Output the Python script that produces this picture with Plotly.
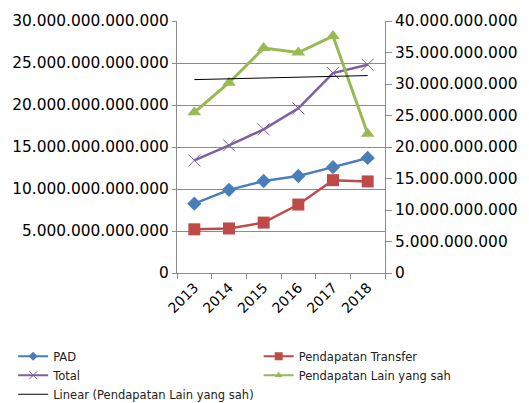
import numpy as np
import plotly.graph_objects as go

years = ["2013", "2014", "2015", "2016", "2017", "2018"]
pad = [8.25e12, 9.9e12, 10.95e12, 11.55e12, 12.6e12, 13.7e12]
transfer = [5.2e12, 5.3e12, 6.0e12, 8.15e12, 11.05e12, 10.9e12]
total = [13.4e12, 15.2e12, 17.1e12, 19.6e12, 23.8e12, 24.8e12]
lain = [25.5e9, 30.2e9, 35.7e9, 35.0e9, 37.6e9, 22.1e9]

idx = np.arange(len(years))
coef = np.polyfit(idx, lain, 1)
trend = np.polyval(coef, idx)

FONT = "DejaVu Sans"
GRID = "#8c8c8c"
C_PAD, C_TR, C_TOT, C_LAIN = "#4A7EBB", "#BE4B48", "#7D60A0", "#98B954"

series = [
    dict(name="PAD", y=pad, color=C_PAD, sym="diamond", size=11, lsize=7, lw=2.5, ax="y", leg="legend"),
    dict(name="Pendapatan Transfer", y=transfer, color=C_TR, sym="square", size=12, lsize=8, lw=2.5, ax="y", leg="legend2"),
    dict(name="Total", y=total, color=C_TOT, sym="x-thin", size=12, lsize=8, lw=2.5, ax="y", leg="legend"),
    dict(name="Pendapatan Lain yang sah", y=lain, color=C_LAIN, sym="triangle-up", size=12, lsize=7, lw=3, ax="y2", leg="legend2"),
]

fig = go.Figure()
for s in series:
    mk = dict(symbol=s["sym"], size=s["size"], color=s["color"])
    if s["sym"] == "x-thin":
        mk["line"] = dict(width=1, color=s["color"])
    fig.add_trace(go.Scatter(x=years, y=s["y"], name=s["name"], mode="lines+markers",
                             yaxis=s["ax"], showlegend=False,
                             line=dict(color=s["color"], width=s["lw"]), marker=mk))
fig.add_trace(go.Scatter(x=years, y=trend, name="Linear (Pendapatan Lain yang sah)", mode="lines",
                         yaxis="y2", showlegend=False, line=dict(color="#000000", width=1)))

# legend entries (smaller legend symbols, as in the reference)
for s in series:
    mk = dict(symbol=s["sym"], size=s["lsize"], color=s["color"])
    if s["sym"] == "x-thin":
        mk["line"] = dict(width=1, color=s["color"])
    fig.add_trace(go.Scatter(x=[years[0]], y=[None], name=s["name"], mode="lines+markers",
                             yaxis=s["ax"], legend=s["leg"], hoverinfo="skip",
                             line=dict(color=s["color"], width=2), marker=mk))
fig.add_trace(go.Scatter(x=[years[0]], y=[None], name="Linear (Pendapatan Lain yang sah)", mode="lines",
                         yaxis="y2", legend="legend", hoverinfo="skip",
                         line=dict(color="#000000", width=1)))

L, R, T, B = 177, 133, 17, 130
PW = 529 - L - R
legfont = dict(size=11.5, family=FONT, color="#222")
fig.update_layout(
    width=529, height=403,
    margin=dict(l=L, r=R, t=T, b=B),
    paper_bgcolor="white", plot_bgcolor="white",
    separators=",.",
    font=dict(family=FONT, color="#000000"),
    xaxis=dict(type="category", categoryarray=years, categoryorder="array",
               range=[-0.5, 5.5], tickangle=-45,
               tickfont=dict(size=14, family=FONT, color="#000"),
               showline=True, linecolor=GRID, linewidth=1,
               ticks="outside", ticklen=5, tickcolor=GRID, tickson="boundaries",
               showgrid=False, zeroline=False),
    yaxis=dict(range=[0, 30e12], dtick=5e12, tickformat=",d", autorange=False,
               tickfont=dict(size=15.4, family=FONT, color="#000"),
               showline=True, linecolor=GRID, linewidth=1,
               ticks="outside", ticklen=4, tickcolor=GRID,
               showgrid=True, gridcolor=GRID, gridwidth=1, zeroline=False),
    yaxis2=dict(range=[0, 40e9], dtick=5e9, tickformat=",d", overlaying="y", side="right",
                autorange=False,
                tickfont=dict(size=15.4, family=FONT, color="#000"),
                showline=True, linecolor=GRID, linewidth=1,
                ticks="outside", ticklen=6, tickcolor=GRID,
                showgrid=False, zeroline=False),
    showlegend=True,
    legend=dict(orientation="v", xref="paper", yref="container",
                x=(4.5 - L) / PW, y=0.152, xanchor="left", yanchor="top",
                font=legfont, tracegroupgap=0, traceorder="normal", bgcolor="rgba(0,0,0,0)"),
    legend2=dict(orientation="v", xref="paper", yref="container",
                 x=(263 - L) / PW, y=0.152, xanchor="left", yanchor="top",
                 font=legfont, tracegroupgap=0, traceorder="normal", bgcolor="rgba(0,0,0,0)"),
)

fig.write_html("out.html")
